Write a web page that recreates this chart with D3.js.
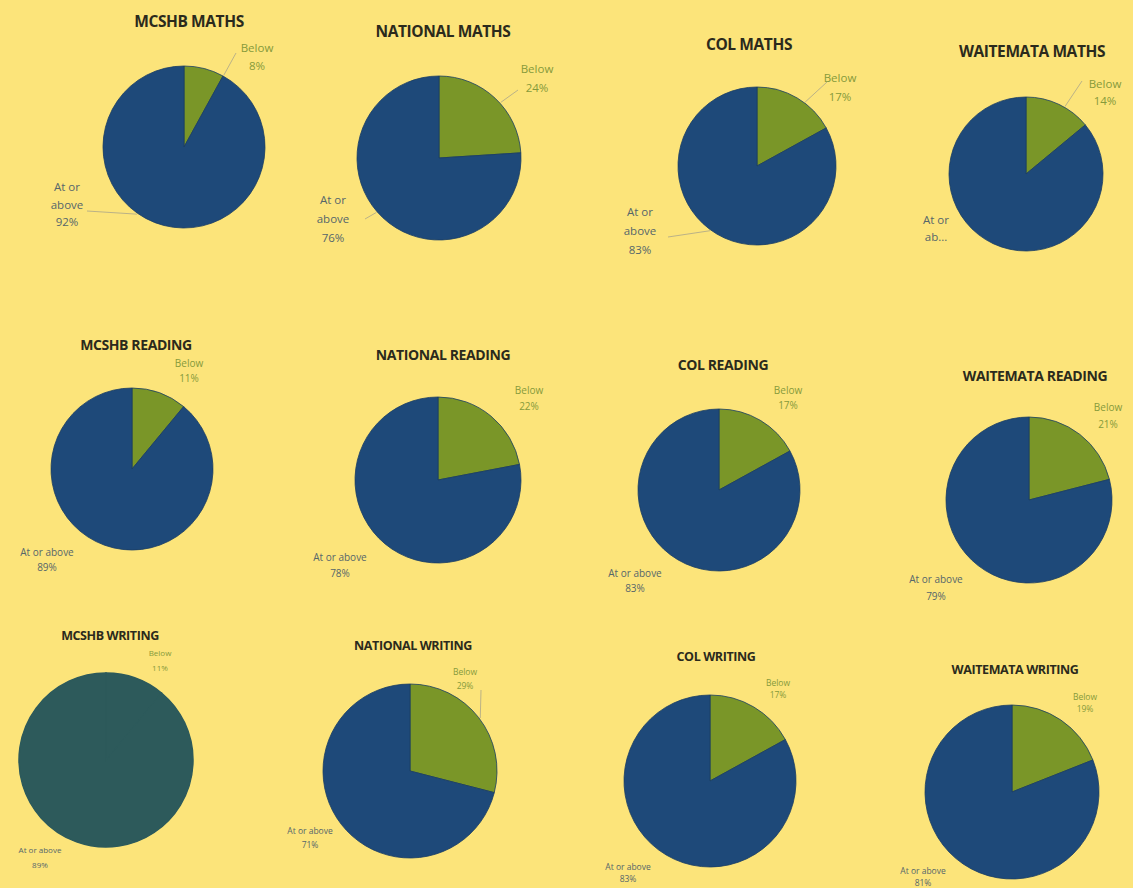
<!DOCTYPE html>
<html>
<head>
<meta charset="utf-8">
<script src="https://cdn.jsdelivr.net/npm/d3@7"></script>
<style>
  html, body { margin: 0; padding: 0; background: #fce47a; }
  svg { display: block; }
</style>
</head>
<body>
<div id="chart"></div>
<script>
// chart data
const titles = [
  "MCSHB MATHS", "NATIONAL MATHS", "COL MATHS", "WAITEMATA MATHS",
  "MCSHB READING", "NATIONAL READING", "COL READING", "WAITEMATA READING",
  "MCSHB WRITING", "NATIONAL WRITING", "COL WRITING", "WAITEMATA WRITING"
];
const categories = ["Below", "At or above"];
const belowPct = [8, 24, 17, 14, 11, 22, 17, 21, 11, 29, 17, 19];
const abovePct = [92, 76, 83, 86, 89, 78, 83, 79, 89, 71, 83, 81];
// how the "At or above" label got wrapped in each chart
const aboveLines = [
  ["At or", "above", "92%"], ["At or", "above", "76%"], ["At or", "above", "83%"], ["At or", "ab..."],
  ["At or above", "89%"], ["At or above", "78%"], ["At or above", "83%"], ["At or above", "79%"],
  ["At or above", "89%"], ["At or above", "71%"], ["At or above", "83%"], ["At or above", "81%"]
];

// layout of every panel (centre, radius, title and label anchors)
const panels = [
  {cx: 184, cy: 147, r: 81, tx: 189, ty: 27, ts: 15.5, bx: 257, by: 52, ax: 67, ay: 191, fs: 11.5, lh: 17.5, lead: [[236, 53, 29], [87, 211, 215]]},
  {cx: 439, cy: 158, r: 82, tx: 443, ty: 37, ts: 15.5, bx: 537, by: 73, ax: 333, ay: 204, fs: 11.5, lh: 19, lead: [[518, 90, 48], [365, 219, 229]]},
  {cx: 757, cy: 166, r: 79, tx: 749, ty: 50, ts: 15.5, bx: 840, by: 82, ax: 640, ay: 216, fs: 11.5, lh: 19, lead: [[827, 82, 37], [668, 237, 216]]},
  {cx: 1026, cy: 174, r: 77, tx: 1032, ty: 57, ts: 15.5, bx: 1105, by: 88, ax: 936, ay: 224, fs: 11.5, lh: 17, lead: [[1082, 81, 30]]},
  {cx: 132, cy: 469, r: 81, tx: 136, ty: 350, ts: 14, bx: 189, by: 367, ax: 47, ay: 556, fs: 10, lh: 15, lead: []},
  {cx: 438, cy: 480, r: 83, tx: 443, ty: 360, ts: 14, bx: 529, by: 394, ax: 340, ay: 561, fs: 10, lh: 16, lead: []},
  {cx: 719, cy: 490, r: 81, tx: 723, ty: 370, ts: 14, bx: 788, by: 394, ax: 635, ay: 577, fs: 10, lh: 15, lead: []},
  {cx: 1029, cy: 500, r: 83, tx: 1035, ty: 381, ts: 14, bx: 1108, by: 411, ax: 936, ay: 583, fs: 10, lh: 17, lead: []},
  {cx: 106, cy: 760, r: 87, tx: 110, ty: 640, ts: 12.5, bx: 160, by: 656, ax: 40, ay: 853, fs: 8, lh: 15, lead: [], flat: true},
  {cx: 410, cy: 771, r: 87, tx: 413, ty: 650, ts: 12.5, bx: 465, by: 675, ax: 310, ay: 834, fs: 8.5, lh: 13.5, lead: [[481, 690, 53]]},
  {cx: 710, cy: 781, r: 86, tx: 716, ty: 661, ts: 12.5, bx: 778, by: 686, ax: 628, ay: 870, fs: 8.5, lh: 12, lead: []},
  {cx: 1012, cy: 792, r: 87, tx: 1015, ty: 674, ts: 12.5, bx: 1085, by: 700, ax: 923, ay: 874, fs: 8.5, lh: 11.5, lead: []}
];

const width = 1133;
const height = 888;

const color = d3.scaleOrdinal()
  .domain(categories)
  .range(["#7a9628", "#1e4979"]);

const pie = d3.pie().sort(null).value(d => d.value);

const svg = d3.select("#chart").append("svg")
  .attr("width", width)
  .attr("height", height)
  .style("font-family", "'Open Sans', sans-serif");

svg.append("rect")
  .attr("width", width)
  .attr("height", height)
  .attr("fill", "#fce47a");

titles.forEach((title, i) => {
  const p = panels[i];
  const g = svg.append("g");
  const data = [
    {key: categories[0], value: belowPct[i]},
    {key: categories[1], value: abovePct[i]}
  ];
  const arc = d3.arc().innerRadius(0).outerRadius(p.r);
  const slices = g.append("g")
      .attr("transform", `translate(${p.cx},${p.cy})`);

  // the MCSHB writing pie came out as one flat teal disc
  if (p.flat) {
    slices.append("circle")
        .attr("r", p.r)
        .attr("fill", "#2d5a5b");
  }

  slices.selectAll("path")
    .data(pie(data))
    .join("path")
      .attr("d", arc)
      .attr("fill", d => p.flat ? "#2d5a5b" : color(d.data.key))
      .attr("stroke", p.flat ? "#2d5a5b" : "#1a3d63")
      .attr("stroke-width", p.flat ? 1.5 : 0.8);

  // leader lines from label to slice edge
  g.selectAll("line")
    .data(p.lead)
    .join("line")
      .attr("x1", d => d[0])
      .attr("y1", d => d[1])
      .attr("x2", d => p.cx + (p.r + 1) * Math.sin(d[2] * Math.PI / 180))
      .attr("y2", d => p.cy - (p.r + 1) * Math.cos(d[2] * Math.PI / 180))
      .attr("stroke", "#a9a58a")
      .attr("stroke-width", 0.8);

  g.append("text")
      .attr("x", p.tx)
      .attr("y", p.ty)
      .attr("text-anchor", "middle")
      .attr("font-size", p.ts)
      .attr("font-weight", "bold")
      .attr("fill", "#2b2a1c")
      .attr("letter-spacing", -0.4)
      .text(title);

  g.append("g")
    .selectAll("text")
    .data([categories[0], belowPct[i] + "%"])
    .join("text")
      .attr("x", p.bx)
      .attr("y", (d, k) => p.by + k * p.lh)
      .attr("text-anchor", "middle")
      .attr("font-size", p.fs)
      .attr("fill", "#869a3a")
      .text(d => d);

  g.append("g")
    .selectAll("text")
    .data(aboveLines[i])
    .join("text")
      .attr("x", p.ax)
      .attr("y", (d, k) => p.ay + k * p.lh)
      .attr("text-anchor", "middle")
      .attr("font-size", p.fs)
      .attr("fill", "#56666a")
      .text(d => d);
});
</script>
</body>
</html>
